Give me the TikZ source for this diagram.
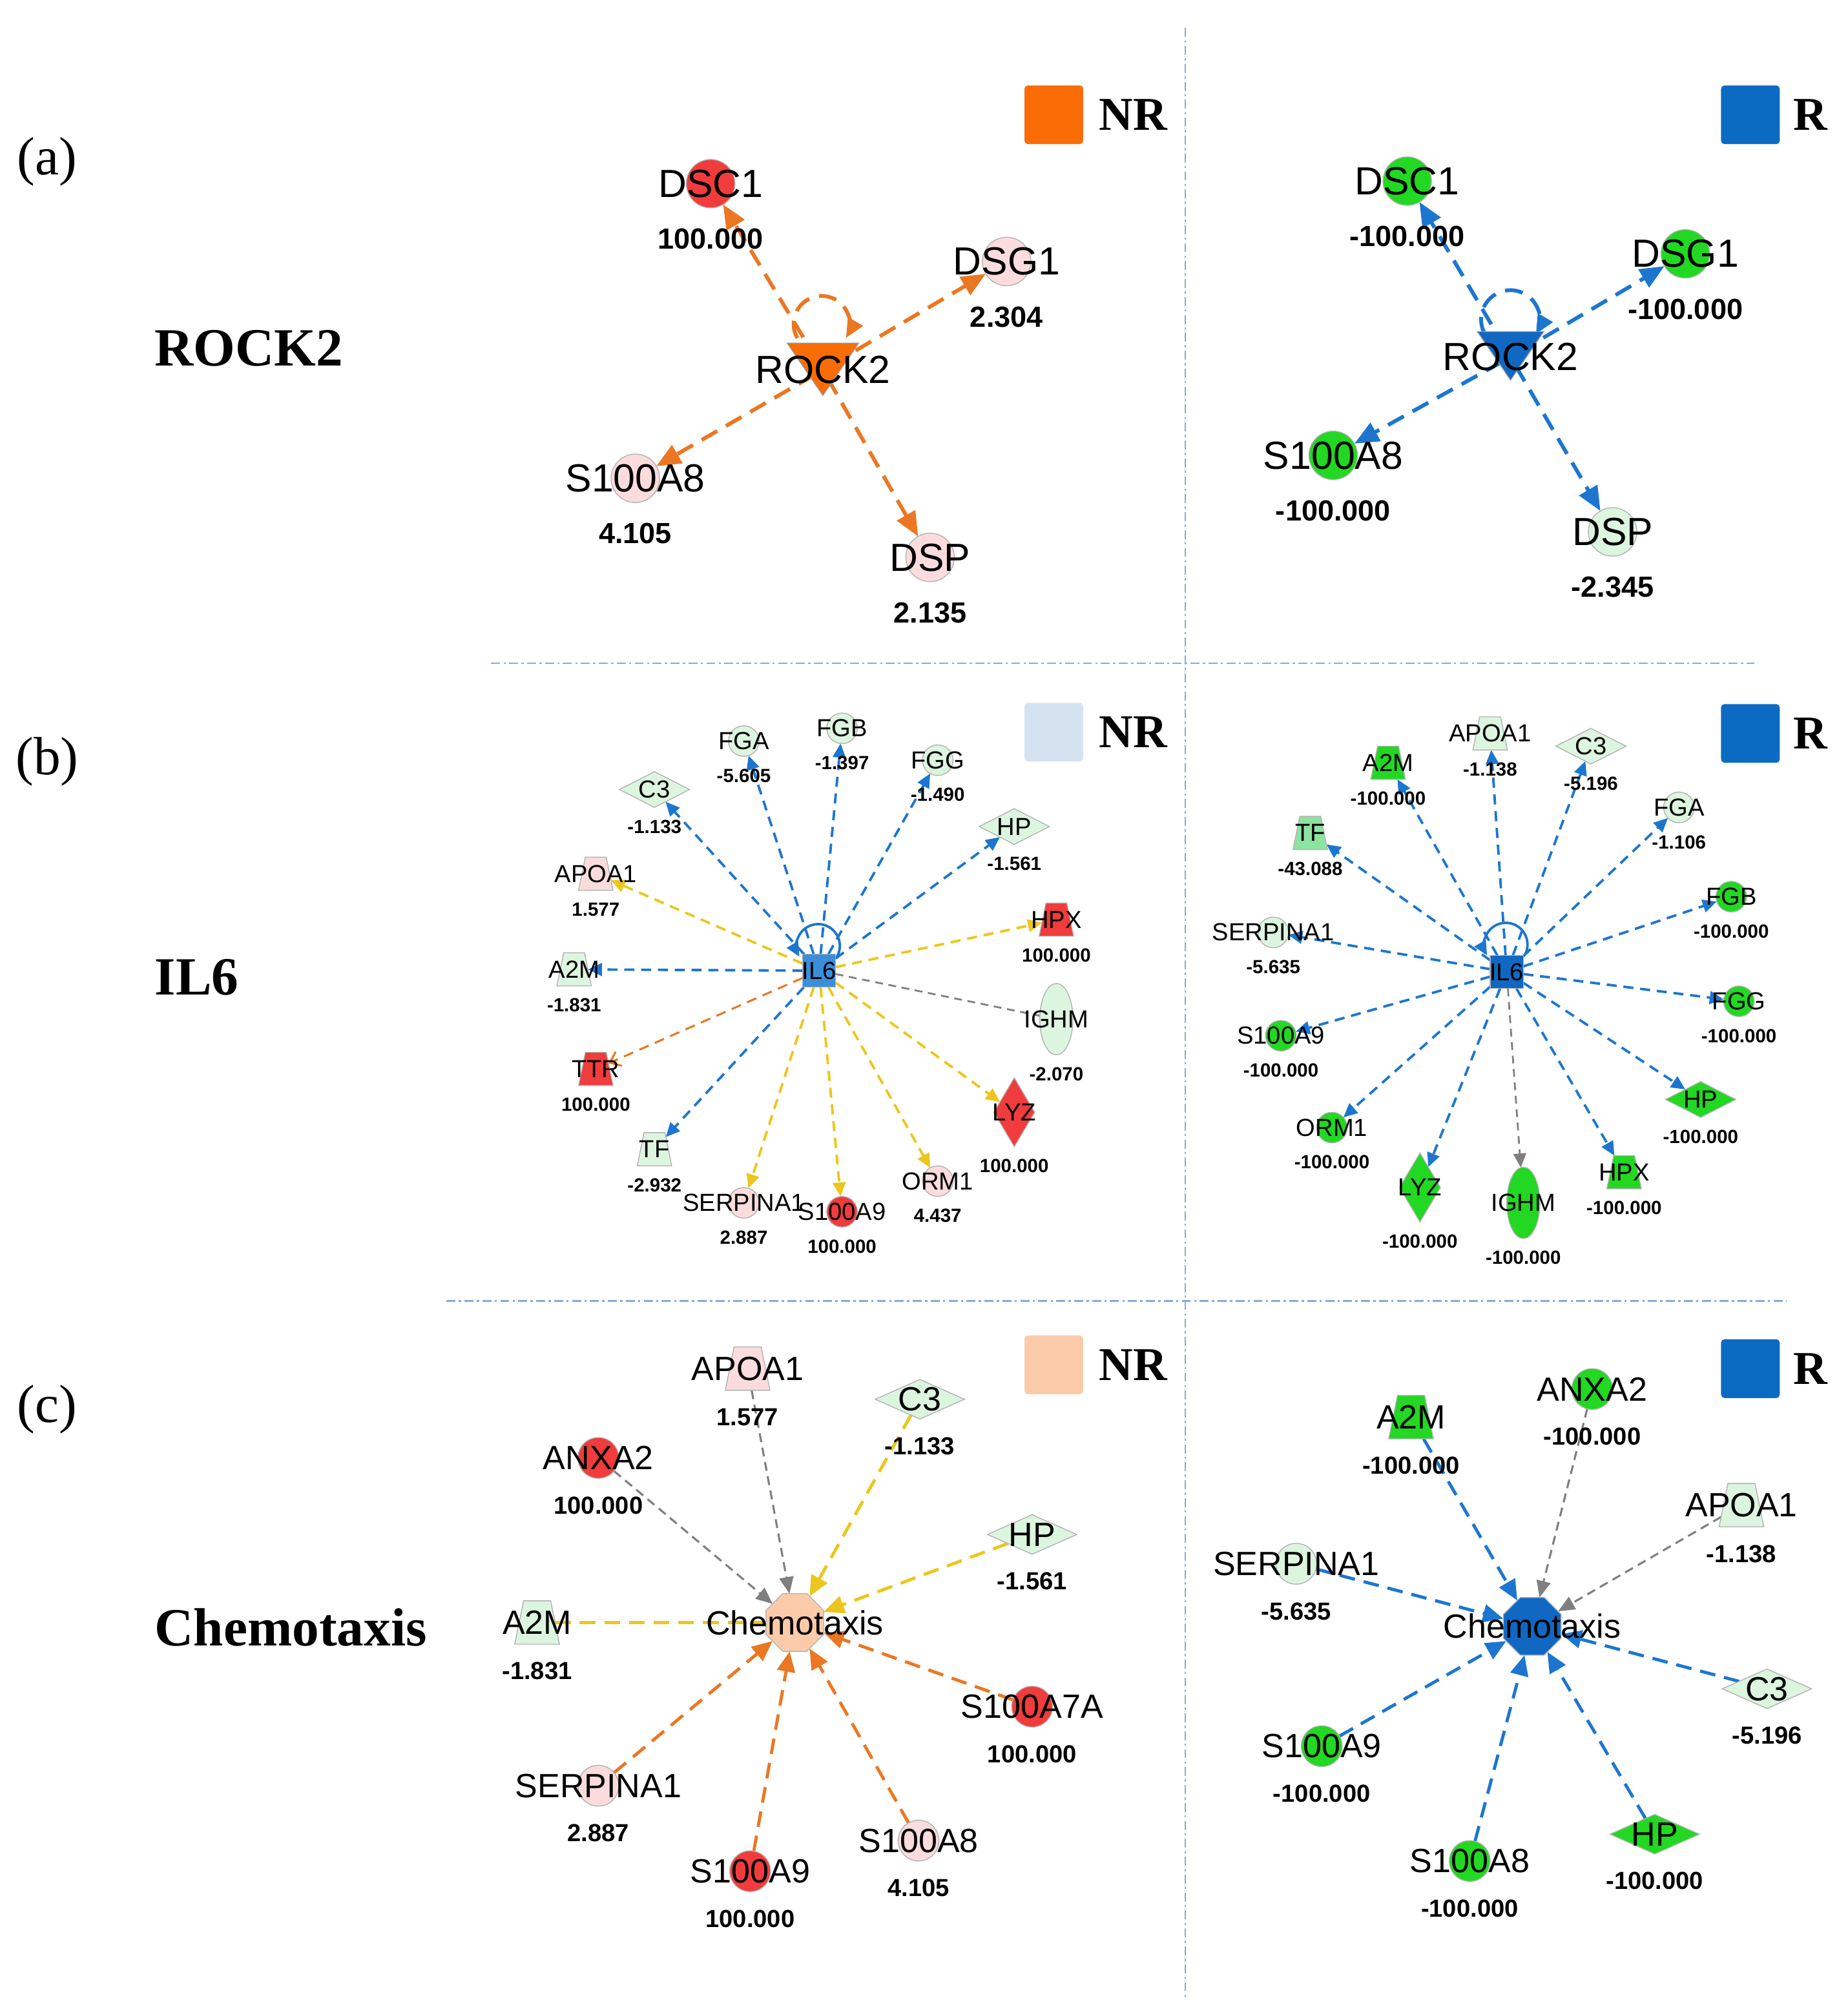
\documentclass[tikz,border=0pt]{standalone}
\usepackage{fontspec}
\setmainfont{Liberation Serif}
\setsansfont{Liberation Sans}
\usetikzlibrary{arrows.meta,shapes.geometric,positioning}

\definecolor{upRed}{HTML}{F03C3C}
\definecolor{upPale}{HTML}{FBDCDC}
\definecolor{dnPale}{HTML}{DCF5DF}
\definecolor{dnGreen}{HTML}{22D822}
\definecolor{dnMid}{HTML}{8DE3A0}
\definecolor{edOrange}{HTML}{EB7722}
\definecolor{edBlue}{HTML}{1C76D0}
\definecolor{edYellow}{HTML}{ECC61C}
\definecolor{edGray}{HTML}{7F7F7F}
\definecolor{keyOrange}{HTML}{FA6C06}
\definecolor{keyBlue}{HTML}{0B6BC3}
\definecolor{keyLight}{HTML}{D5E3F1}
\definecolor{keyPeach}{HTML}{FBCBA9}
\definecolor{hubLight}{HTML}{3C8EDB}
\definecolor{hubDark}{HTML}{1168C3}
\definecolor{divBlue}{HTML}{86ABD6}

\pgfdeclarelayer{edges}
\pgfsetlayers{edges,main}

\tikzset{
  % molecule shapes
  gene/.style={draw=black!30, line width=0.4pt, inner sep=0pt, outer sep=0pt},
  cirA/.style={gene, circle, minimum size=0.76cm},
  cirB/.style={gene, circle, minimum size=0.48cm},
  cirC/.style={gene, circle, minimum size=0.64cm},
  dmdB/.style={gene, diamond, minimum width=1.1cm, minimum height=0.56cm},
  dmdTall/.style={gene, diamond, minimum width=0.64cm, minimum height=1.08cm},
  dmdC/.style={gene, diamond, minimum width=1.4cm, minimum height=0.62cm},
  trpB/.style={gene, trapezium, inner sep=0.5pt, trapezium stretches=true, trapezium left angle=72,
    trapezium right angle=72, minimum width=0.54cm, minimum height=0.52cm},
  trpC/.style={gene, trapezium, inner sep=0.5pt, trapezium stretches=true, trapezium left angle=72,
    trapezium right angle=72, minimum width=0.7cm, minimum height=0.68cm},
  ellB/.style={gene, ellipse, minimum width=0.52cm, minimum height=1.12cm},
  hubA/.style={circle, inner sep=0pt, minimum size=0.3cm},
  hubB/.style={gene, rectangle, minimum size=0.52cm},
  hubC/.style={gene, regular polygon, regular polygon sides=8, minimum size=0.98cm},
  % texts
  symA/.style={font=\sffamily\fontsize{17.5}{20}\selectfont, inner sep=0pt},
  symB/.style={font=\sffamily\fontsize{11}{13}\selectfont, inner sep=0pt},
  symC/.style={font=\sffamily\fontsize{15}{17}\selectfont, inner sep=0pt},
  valA/.style={font=\sffamily\bfseries\fontsize{13}{15}\selectfont, inner sep=0pt, label distance=0.32cm},
  valB/.style={font=\sffamily\bfseries\fontsize{8.5}{10}\selectfont, inner sep=0pt, label distance=0.19cm},
  valC/.style={font=\sffamily\bfseries\fontsize{11}{13}\selectfont, inner sep=0pt, label distance=0.28cm},
  tagTxt/.style={font=\fontsize{24}{28}\selectfont, inner sep=0pt},
  rowTxt/.style={font=\bfseries\fontsize{24}{28}\selectfont, inner sep=0pt, anchor=west},
  keySq/.style={rectangle, rounded corners=1.5pt, minimum size=0.92cm, inner sep=0pt},
  keyTxt/.style={font=\bfseries\fontsize{21}{24}\selectfont, inner sep=0pt},
  % connectors
  tipA/.style={-{Triangle[length=0.38cm,width=0.32cm]}},
  tipB/.style={-{Triangle[length=0.22cm,width=0.2cm]}},
  tipC/.style={-{Triangle[length=0.32cm,width=0.28cm]}},
  edgeA/.style={line width=1.7pt, dash pattern=on 8pt off 4.5pt, tipA},
  edgeB/.style={line width=1.1pt, dash pattern=on 4.5pt off 3pt},
  edgeC/.style={line width=1.4pt, dash pattern=on 7pt off 4pt},
  grayB/.style={line width=0.8pt, edGray, dash pattern=on 3.5pt off 2.5pt},
  grayC/.style={line width=0.9pt, edGray, dash pattern=on 4pt off 2.5pt,
    -{Triangle[length=0.26cm,width=0.22cm]}},
  divider/.style={draw=divBlue, line width=0.7pt, dash pattern=on 4pt off 1.5pt on 1pt off 1.5pt}
}

\begin{document}
\begin{tikzpicture}[x=0.02cm, y=-0.02cm]
  \useasboundingbox (0,0) rectangle (1448,1568);

  % dividers
  \draw[divider] (929,22) -- (929,1568);
  \draw[divider] (385,520) -- (1375,520);
  \draw[divider] (350,1020) -- (1400,1020);

  % row tags and titles
  \node[tagTxt] (aTag) at (37,127) {(a)};
  \node[tagTxt] (bTag) at (37,597) {(b)};
  \node[tagTxt] (cTag) at (37,1105) {(c)};
  \node[rowTxt] (aRow) at (121,273) {ROCK2};
  \node[rowTxt] (bRow) at (121,766) {IL6};
  \node[rowTxt] (cRow) at (121,1276) {Chemotaxis};

  % legend keys
  \node[keySq, fill=keyOrange] (aNkey) at (826,90) {};
  \node[keyTxt, right=0.24cm of aNkey] (aNkeyT) {NR};
  \node[keySq, fill=keyBlue] (aRkey) at (1372,90) {};
  \node[keyTxt, right=0.2cm of aRkey] (aRkeyT) {R};
  \node[keySq, fill=keyLight] (bNkey) at (826,574) {};
  \node[keyTxt, right=0.24cm of bNkey] (bNkeyT) {NR};
  \node[keySq, fill=keyBlue] (bRkey) at (1372,575) {};
  \node[keyTxt, right=0.2cm of bRkey] (bRkeyT) {R};
  \node[keySq, fill=keyPeach] (cNkey) at (826,1070) {};
  \node[keyTxt, right=0.24cm of cNkey] (cNkeyT) {NR};
  \node[keySq, fill=keyBlue] (cRkey) at (1372,1073) {};
  \node[keyTxt, right=0.2cm of cRkey] (cRkeyT) {R};

  % (a) ROCK2, NR
  \node[hubA] (aNrock) at (645,290) {};
  \filldraw[draw=black!40, fill=keyOrange] (aNrock) ++(-28,-21) -- ++(56,0) -- ++(-28,41) -- cycle;
  \node[symA] (aNrockT) at (aNrock) {ROCK2};
  \node[cirA, fill=upRed, label={[valA]below:100.000}] (aNdsc) at (557,144) {}; \node[symA] (aNdscT) at (aNdsc) {DSC1};
  \node[cirA, fill=upPale, label={[valA]below:2.304}] (aNdsg) at (789,205) {}; \node[symA] (aNdsgT) at (aNdsg) {DSG1};
  \node[cirA, fill=upPale, label={[valA]below:4.105}] (aNsa8) at (498,375) {}; \node[symA] (aNsa8T) at (aNsa8) {S100A8};
  \node[cirA, fill=upPale, label={[valA]below:2.135}] (aNdsp) at (729,437) {}; \node[symA] (aNdspT) at (aNdsp) {DSP};

  % (a) ROCK2, R
  \node[hubA] (aRrock) at (1184,280) {};
  \filldraw[draw=black!40, fill=hubDark] (aRrock) ++(-26,-20) -- ++(52,0) -- ++(-26,38) -- cycle;
  \node[symA] (aRrockT) at (aRrock) {ROCK2};
  \node[cirA, fill=dnGreen, label={[valA]below:-100.000}] (aRdsc) at (1103,142) {}; \node[symA] (aRdscT) at (aRdsc) {DSC1};
  \node[cirA, fill=dnGreen, label={[valA]below:-100.000}] (aRdsg) at (1321,199) {}; \node[symA] (aRdsgT) at (aRdsg) {DSG1};
  \node[cirA, fill=dnGreen, label={[valA]below:-100.000}] (aRsa8) at (1045,357) {}; \node[symA] (aRsa8T) at (aRsa8) {S100A8};
  \node[cirA, fill=dnPale, label={[valA]below:-2.345}] (aRdsp) at (1264,417) {}; \node[symA] (aRdspT) at (aRdsp) {DSP};

  % (b) IL6, NR
  \node[hubB, fill=hubLight] (bNil) at (642,761) {};
  \node[symB] (bNilT) at (bNil) {IL6};
  \node[cirB, fill=dnPale, label={[valB]below:-5.605}] (bNfga) at (583,581) {}; \node[symB] (bNfgaT) at (bNfga) {FGA};
  \node[cirB, fill=dnPale, label={[valB]below:-1.397}] (bNfgb) at (660,571) {}; \node[symB] (bNfgbT) at (bNfgb) {FGB};
  \node[cirB, fill=dnPale, label={[valB]below:-1.490}] (bNfgg) at (735,596) {}; \node[symB] (bNfggT) at (bNfgg) {FGG};
  \node[dmdB, fill=dnPale, label={[valB]below:-1.133}] (bNc3) at (513,619) {}; \node[symB] (bNc3T) at (bNc3) {C3};
  \node[dmdB, fill=dnPale, label={[valB]below:-1.561}] (bNhp) at (795,648) {}; \node[symB] (bNhpT) at (bNhp) {HP};
  \node[trpB, fill=upPale, label={[valB]below:1.577}] (bNapo) at (467,685) {}; \node[symB] (bNapoT) at (bNapo) {APOA1};
  \node[trpB, fill=upRed, label={[valB]below:100.000}] (bNhpx) at (828,721) {}; \node[symB] (bNhpxT) at (bNhpx) {HPX};
  \node[trpB, fill=dnPale, label={[valB]below:-1.831}] (bNa2m) at (450,760) {}; \node[symB] (bNa2mT) at (bNa2m) {A2M};
  \node[ellB, fill=dnPale, label={[valB]below:-2.070}] (bNighm) at (828,799) {}; \node[symB] (bNighmT) at (bNighm) {IGHM};
  \node[trpB, fill=upRed, label={[valB]below:100.000}] (bNttr) at (467,838) {}; \node[symB] (bNttrT) at (bNttr) {TTR};
  \node[dmdTall, fill=upRed, label={[valB]below:100.000}] (bNlyz) at (795,872) {}; \node[symB] (bNlyzT) at (bNlyz) {LYZ};
  \node[trpB, fill=dnPale, label={[valB]below:-2.932}] (bNtf) at (513,901) {}; \node[symB] (bNtfT) at (bNtf) {TF};
  \node[cirB, fill=upPale, label={[valB]below:2.887}] (bNserp) at (583,943) {}; \node[symB] (bNserpT) at (bNserp) {SERPINA1};
  \node[cirB, fill=upRed, label={[valB]below:100.000}] (bNsa9) at (660,950) {}; \node[symB] (bNsa9T) at (bNsa9) {S100A9};
  \node[cirB, fill=upPale, label={[valB]below:4.437}] (bNorm) at (735,926) {}; \node[symB] (bNormT) at (bNorm) {ORM1};

  % (b) IL6, R
  \node[hubB, fill=hubDark] (bRil) at (1181,762) {};
  \node[symB] (bRilT) at (bRil) {IL6};
  \node[trpB, fill=dnPale, label={[valB]below:-1.138}] (bRapo) at (1168,575) {}; \node[symB] (bRapoT) at (bRapo) {APOA1};
  \node[trpB, fill=dnGreen, label={[valB]below:-100.000}] (bRa2m) at (1088,598) {}; \node[symB] (bRa2mT) at (bRa2m) {A2M};
  \node[dmdB, fill=dnPale, label={[valB]below:-5.196}] (bRc3) at (1247,585) {}; \node[symB] (bRc3T) at (bRc3) {C3};
  \node[trpB, fill=dnMid, label={[valB]below:-43.088}] (bRtf) at (1027,653) {}; \node[symB] (bRtfT) at (bRtf) {TF};
  \node[cirB, fill=dnPale, label={[valB]below:-1.106}] (bRfga) at (1316,633) {}; \node[symB] (bRfgaT) at (bRfga) {FGA};
  \node[cirB, fill=dnPale, label={[valB]below:-5.635}] (bRserp) at (998,731) {}; \node[symB] (bRserpT) at (bRserp) {SERPINA1};
  \node[cirB, fill=dnGreen, label={[valB]below:-100.000}] (bRfgb) at (1357,703) {}; \node[symB] (bRfgbT) at (bRfgb) {FGB};
  \node[cirB, fill=dnGreen, label={[valB]below:-100.000}] (bRfgg) at (1363,785) {}; \node[symB] (bRfggT) at (bRfgg) {FGG};
  \node[cirB, fill=dnGreen, label={[valB]below:-100.000}] (bRsa9) at (1004,812) {}; \node[symB] (bRsa9T) at (bRsa9) {S100A9};
  \node[dmdB, fill=dnGreen, label={[valB]below:-100.000}] (bRhp) at (1333,862) {}; \node[symB] (bRhpT) at (bRhp) {HP};
  \node[cirB, fill=dnGreen, label={[valB]below:-100.000}] (bRorm) at (1044,884) {}; \node[symB] (bRormT) at (bRorm) {ORM1};
  \node[trpB, fill=dnGreen, label={[valB]below:-100.000}] (bRhpx) at (1273,919) {}; \node[symB] (bRhpxT) at (bRhpx) {HPX};
  \node[dmdTall, fill=dnGreen, label={[valB]below:-100.000}] (bRlyz) at (1113,931) {}; \node[symB] (bRlyzT) at (bRlyz) {LYZ};
  \node[ellB, fill=dnGreen, label={[valB]below:-100.000}] (bRighm) at (1194,943) {}; \node[symB] (bRighmT) at (bRighm) {IGHM};

  % (c) Chemotaxis, NR
  \node[hubC, fill=keyPeach] (cNchem) at (623,1272) {};
  \node[symC] (cNchemT) at (cNchem) {Chemotaxis};
  \node[trpC, fill=upPale, label={[valC]below:1.577}] (cNapo) at (586,1073) {}; \node[symC] (cNapoT) at (cNapo) {APOA1};
  \node[dmdC, fill=dnPale, label={[valC]below:-1.133}] (cNc3) at (721,1097) {}; \node[symC] (cNc3T) at (cNc3) {C3};
  \node[cirC, fill=upRed, label={[valC]below:100.000}] (cNanx) at (469,1143) {}; \node[symC] (cNanxT) at (cNanx) {ANXA2};
  \node[dmdC, fill=dnPale, label={[valC]below:-1.561}] (cNhp) at (809,1203) {}; \node[symC] (cNhpT) at (cNhp) {HP};
  \node[trpC, fill=dnPale, label={[valC]below:-1.831}] (cNa2m) at (421,1272) {}; \node[symC] (cNa2mT) at (cNa2m) {A2M};
  \node[cirC, fill=upRed, label={[valC]below:100.000}] (cNsa7) at (809,1338) {}; \node[symC] (cNsa7T) at (cNsa7) {S100A7A};
  \node[cirC, fill=upPale, label={[valC]below:2.887}] (cNserp) at (469,1400) {}; \node[symC] (cNserpT) at (cNserp) {SERPINA1};
  \node[cirC, fill=upRed, label={[valC]below:100.000}] (cNsa9) at (588,1467) {}; \node[symC] (cNsa9T) at (cNsa9) {S100A9};
  \node[cirC, fill=upPale, label={[valC]below:4.105}] (cNsa8) at (720,1443) {}; \node[symC] (cNsa8T) at (cNsa8) {S100A8};

  % (c) Chemotaxis, R
  \node[hubC, fill=hubDark] (cRchem) at (1201,1275) {};
  \node[symC] (cRchemT) at (cRchem) {Chemotaxis};
  \node[trpC, fill=dnGreen, label={[valC]below:-100.000}] (cRa2m) at (1106,1111) {}; \node[symC] (cRa2mT) at (cRa2m) {A2M};
  \node[cirC, fill=dnGreen, label={[valC]below:-100.000}] (cRanx) at (1248,1089) {}; \node[symC] (cRanxT) at (cRanx) {ANXA2};
  \node[trpC, fill=dnPale, label={[valC]below:-1.138}] (cRapo) at (1365,1180) {}; \node[symC] (cRapoT) at (cRapo) {APOA1};
  \node[cirC, fill=dnPale, label={[valC]below:-5.635}] (cRserp) at (1016,1226) {}; \node[symC] (cRserpT) at (cRserp) {SERPINA1};
  \node[dmdC, fill=dnPale, label={[valC]below:-5.196}] (cRc3) at (1385,1324) {}; \node[symC] (cRc3T) at (cRc3) {C3};
  \node[cirC, fill=dnGreen, label={[valC]below:-100.000}] (cRsa9) at (1036,1369) {}; \node[symC] (cRsa9T) at (cRsa9) {S100A9};
  \node[cirC, fill=dnGreen, label={[valC]below:-100.000}] (cRsa8) at (1152,1459) {}; \node[symC] (cRsa8T) at (cRsa8) {S100A8};
  \node[dmdC, fill=dnGreen, label={[valC]below:-100.000}] (cRhp) at (1297,1438) {}; \node[symC] (cRhpT) at (cRhp) {HP};

  \begin{pgfonlayer}{edges}
    % (a) connectors
    \draw[edgeA, edOrange] (aNrock) -- (aNdsc);
    \draw[edgeA, edOrange] (aNrock) -- (aNdsg);
    \draw[edgeA, edOrange] (aNrock) -- (aNsa8);
    \draw[edgeA, edOrange] (aNrock) -- (aNdsp);
    \coordinate (aNloop) at (625,265);
    \draw[edgeA, edOrange, -{Triangle[length=0.3cm,width=0.26cm]}] (aNloop) arc (150:390:22);
    \draw[edgeA, edBlue] (aRrock) -- (aRdsc);
    \draw[edgeA, edBlue] (aRrock) -- (aRdsg);
    \draw[edgeA, edBlue] (aRrock) -- (aRsa8);
    \draw[edgeA, edBlue] (aRrock) -- (aRdsp);
    \coordinate (aRloop) at (1164,262);
    \draw[edgeA, edBlue, -{Triangle[length=0.3cm,width=0.26cm]}] (aRloop) arc (150:390:23);

    % (b) connectors, NR
    \foreach \g in {fga,fgb,fgg,c3,hp,a2m,tf}
      \draw[edgeB, edBlue, tipB] (bNil) -- (bN\g);
    \foreach \g in {apo,hpx,lyz,serp,sa9,orm}
      \draw[edgeB, edYellow, tipB] (bNil) -- (bN\g);
    \draw[edgeB, line width=0.9pt, edOrange, -{Straight Barb[length=0.15cm,width=0.24cm]}] (bNil) -- (bNttr);
    \draw[grayB] (bNil) -- (bNighm);
    \coordinate (bNloop) at (656,750);
    \draw[line width=1.1pt, edBlue, tipB] (bNloop) arc (30:-210:17);

    % (b) connectors, R
    \foreach \g in {apo,a2m,c3,tf,fga,serp,fgb,fgg,sa9,hp,orm,hpx,lyz}
      \draw[edgeB, edBlue, tipB] (bRil) -- (bR\g);
    \draw[grayB, tipB] (bRil) -- (bRighm);
    \coordinate (bRloop) at (1195,749);
    \draw[line width=1.1pt, edBlue, tipB] (bRloop) arc (30:-210:17);

    % (c) connectors, NR
    \draw[grayC] (cNanx) -- (cNchem);
    \draw[grayC] (cNapo) -- (cNchem);
    \draw[edgeC, edYellow, tipC] (cNc3) -- (cNchem);
    \draw[edgeC, edYellow, tipC] (cNhp) -- (cNchem);
    \draw[edgeC, edYellow] (cNa2m) -- (cNchem);
    \foreach \g in {sa7,serp,sa9,sa8}
      \draw[edgeC, edOrange, tipC] (cN\g) -- (cNchem);

    % (c) connectors, R
    \foreach \g in {a2m,serp,c3,sa9,sa8,hp}
      \draw[edgeC, edBlue, tipC] (cR\g) -- (cRchem);
    \draw[grayC] (cRanx) -- (cRchem);
    \draw[grayC] (cRapo) -- (cRchem);
  \end{pgfonlayer}
\end{tikzpicture}
\end{document}
